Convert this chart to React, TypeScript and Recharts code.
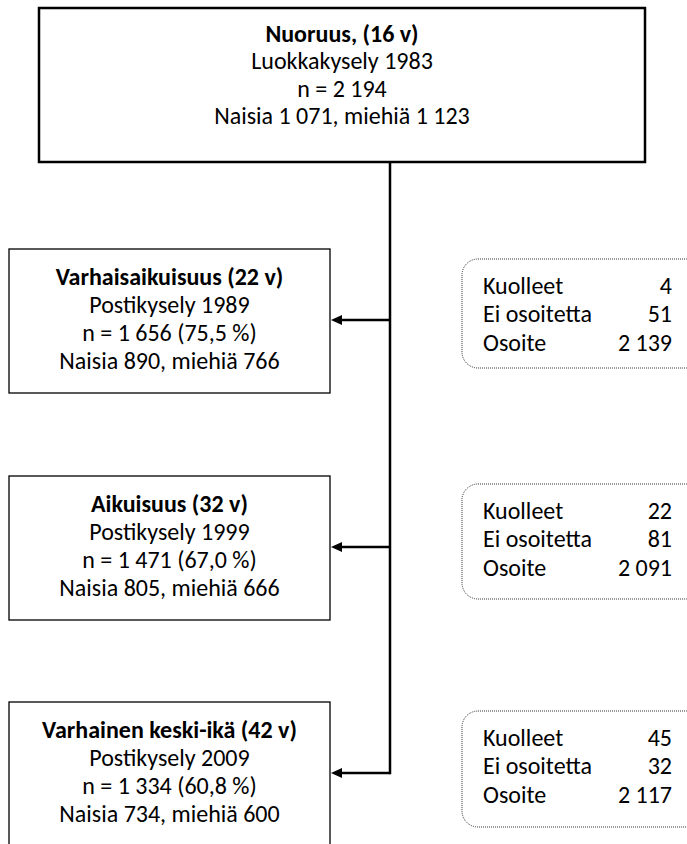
import { ScatterChart, Scatter, XAxis, YAxis, ReferenceLine } from 'recharts';

// stage texts
const TITLES = ['Nuoruus, (16 v)', 'Varhaisaikuisuus (22 v)', 'Aikuisuus (32 v)', 'Varhainen keski-ikä (42 v)'];
const SURVEYS = ['Luokkakysely 1983', 'Postikysely 1989', 'Postikysely 1999', 'Postikysely 2009'];
const N_COUNTS = [2194, 1656, 1471, 1334];
const N_SHARE = [null, 75.5, 67.0, 60.8];
const WOMEN = [1071, 890, 805, 734];
const MEN = [1123, 766, 666, 600];

// dropout boxes, one per follow-up
const LOST_LABELS = ['Kuolleet', 'Ei osoitetta', 'Osoite'];
const DEAD = [4, 22, 45];
const NO_ADDRESS = [51, 81, 32];
const ADDRESS = [2139, 2091, 2117];

// layout (pixels; axes map 1:1)
const W = 687;
const H = 844;
const FONT = 'Carlito, Lato, sans-serif';
const FS = 24;
const TRUNK_X = 390;
const TOP_BOX = { x: 39, y: 8, w: 606, h: 154 };
const LEFT_X = 9;
const LEFT_W = 321;
const LEFT_H = 144;
const LEFT_TOPS = [249, 476, 702];
const RIGHT_X = 462;
const RIGHT_W = 240;
const RIGHT_TOPS = [259, 484, 711];
const RIGHT_HS = [109, 115, 116];

const fmt = (v: number) => {
  const s = String(v);
  return s.length > 3 ? s.slice(0, s.length - 3) + ' ' + s.slice(-3) : s;
};
const pct = (v: number) => v.toFixed(1).replace('.', ',');

const stageLines = (i: number) => [
  TITLES[i],
  SURVEYS[i],
  N_SHARE[i] == null ? `n = ${fmt(N_COUNTS[i])}` : `n = ${fmt(N_COUNTS[i])} (${pct(N_SHARE[i] as number)} %)`,
  `Naisia ${fmt(WOMEN[i])}, miehiä ${fmt(MEN[i])}`,
];

const topData = [{ x: TOP_BOX.x + TOP_BOX.w / 2, y: TOP_BOX.y + TOP_BOX.h / 2, idx: 0 }];
const leftData = LEFT_TOPS.map((t, k) => ({ x: LEFT_X + LEFT_W / 2, y: t + LEFT_H / 2, idx: k + 1 }));
const rightData = RIGHT_TOPS.map((t, k) => ({ x: RIGHT_X + RIGHT_W / 2, y: t + RIGHT_HS[k] / 2, idx: k }));

const TopShape = (props: any) => {
  const { cx, cy, payload } = props;
  const x0 = cx - TOP_BOX.w / 2;
  const y0 = cy - TOP_BOX.h / 2;
  const lines = stageLines(payload.idx);
  return (
    <g>
      <rect x={x0} y={y0} width={TOP_BOX.w} height={TOP_BOX.h} fill="#fff" stroke="#000" strokeWidth={2.5} />
      {lines.map((l, i) => (
        <text key={i} x={cx} y={y0 + 25 + i * 27.5} textAnchor="middle" dominantBaseline="central"
          fontFamily={FONT} fontSize={FS} fontWeight={i === 0 ? 700 : 400} fill="#000">{l}</text>
      ))}
    </g>
  );
};

const LeftShape = (props: any) => {
  const { cx, cy, payload } = props;
  const x0 = cx - LEFT_W / 2;
  const y0 = cy - LEFT_H / 2;
  const x1 = x0 + LEFT_W;
  const ay = y0 + 71;
  const lines = stageLines(payload.idx);
  return (
    <g>
      <rect x={x0} y={y0} width={LEFT_W} height={LEFT_H} fill="#fff" stroke="#000" strokeWidth={1.3} />
      <line x1={TRUNK_X} y1={ay} x2={x1 + 9} y2={ay} stroke="#000" strokeWidth={2.5} />
      <polygon points={`${x1 + 1},${ay} ${x1 + 12},${ay - 5} ${x1 + 12},${ay + 5}`} fill="#000" />
      {lines.map((l, i) => (
        <text key={i} x={cx} y={y0 + 27 + i * 28} textAnchor="middle" dominantBaseline="central"
          fontFamily={FONT} fontSize={FS} fontWeight={i === 0 ? 700 : 400} fill="#000">{l}</text>
      ))}
    </g>
  );
};

const RightShape = (props: any) => {
  const { cx, cy, payload } = props;
  const k = payload.idx;
  const h = RIGHT_HS[k];
  const x0 = cx - RIGHT_W / 2;
  const y0 = cy - h / 2;
  const vals = [DEAD[k], NO_ADDRESS[k], ADDRESS[k]];
  return (
    <g>
      <rect x={x0} y={y0} width={RIGHT_W} height={h} rx={16} ry={16} fill="#fff" stroke="#333"
        strokeWidth={1} strokeDasharray="1 1" />
      {LOST_LABELS.map((l, i) => (
        <g key={i}>
          <text x={483} y={y0 + 26 + i * 28.5} dominantBaseline="central" fontFamily={FONT} fontSize={FS} fill="#000">{l}</text>
          <text x={672} y={y0 + 26 + i * 28.5} textAnchor="end" dominantBaseline="central" fontFamily={FONT} fontSize={FS} fill="#000">{fmt(vals[i])}</text>
        </g>
      ))}
    </g>
  );
};

export default function App() {
  return (
    <div style={{ width: W, height: H, background: '#fff' }}>
      <style>{'body{margin:0;}'}</style>
      <ScatterChart width={W} height={H} margin={{ top: 0, right: 0, bottom: 0, left: 0 }}>
        <XAxis type="number" dataKey="x" domain={[0, W]} hide allowDataOverflow />
        <YAxis type="number" dataKey="y" domain={[0, H]} reversed hide allowDataOverflow />
        <ReferenceLine segment={[{ x: TRUNK_X, y: TOP_BOX.y + TOP_BOX.h }, { x: TRUNK_X, y: LEFT_TOPS[2] + 72.2 }]}
          stroke="#000" strokeWidth={2.5} ifOverflow="visible" />
        <Scatter data={leftData} shape={LeftShape} isAnimationActive={false} />
        <Scatter data={topData} shape={TopShape} isAnimationActive={false} />
        <Scatter data={rightData} shape={RightShape} isAnimationActive={false} />
      </ScatterChart>
    </div>
  );
}
